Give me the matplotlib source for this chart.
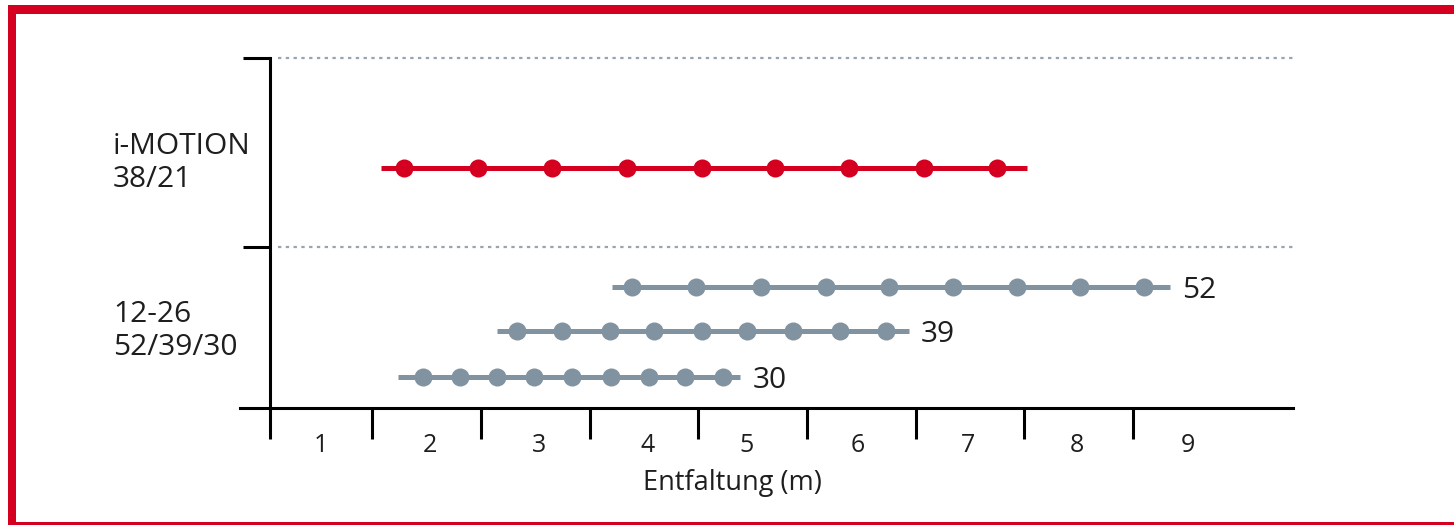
import matplotlib
matplotlib.use('Agg')
import matplotlib.pyplot as plt
from matplotlib.patches import Rectangle

plt.rcParams['font.family'] = ['Open Sans', 'DejaVu Sans']

# -----------------------------------------
# Daten
# X-Achse: Teilstriche und Beschriftungen (Entfaltung in m)
tick_pos = [0, 0.945, 1.956, 2.966, 3.967, 4.977, 5.987, 6.988, 8.0]
label_pos = [0.47, 1.48, 2.49, 3.50, 4.42, 5.45, 6.47, 7.48, 8.51]
tick_labels = ['1', '2', '3', '4', '5', '6', '7', '8', '9']

# Y-Achse: Gruppen-Trenner
group_ticks = [16.1, 35.0]
group_names = ['i-MOTION\n38/21', '12-26\n52/39/30']
group_y = [24.5, 7.7]

# Linien (Bereich der Entfaltung) und Rasterpunkte
line_names = ['', '52', '39', '30']
line_y = [24.0, 12.1, 7.7, 3.1]
line_start = [1.03, 3.17, 2.10, 1.19]
line_end = [7.02, 8.34, 5.92, 4.36]
dots_38_21 = [1.24, 1.93, 2.61, 3.31, 4.00, 4.68, 5.37, 6.06, 6.74]
dots_52 = [3.36, 3.95, 4.55, 5.15, 5.74, 6.33, 6.92, 7.51, 8.10]
dots_39 = [2.29, 2.71, 3.15, 3.56, 4.00, 4.42, 4.85, 5.28, 5.71]
dots_30 = [1.42, 1.76, 2.10, 2.45, 2.80, 3.16, 3.51, 3.85, 4.20]
line_dots = [dots_38_21, dots_52, dots_39, dots_30]

RED = '#d5001f'
GREY = '#8193a0'
line_colors = [RED, GREY, GREY, GREY]
TEXT = '#1e1e1e'

# -----------------------------------------
W, H = 1454, 525
fig = plt.figure(figsize=(W / 100, H / 100), dpi=100)
ax = fig.add_axes([240 / W, (H - 408) / H, (1293 - 240) / W, 350 / H])
ax.set_xlim(-0.278, 9.483)
ax.set_ylim(0, 35)

# gepunktete Hilfslinien
for gy in group_ticks:
    ax.plot([0.074, 9.483], [gy, gy], color='#98a4b0', linewidth=1.6,
            linestyle=(0, (1.5, 2.0)), clip_on=False, zorder=1)

# Linien mit Punkten
for name, y, x0, x1, dots, c in zip(line_names, line_y, line_start, line_end,
                                    line_dots, line_colors):
    ax.plot([x0, x1], [y, y], color=c, linewidth=3.6, solid_capstyle='butt', zorder=2)
    ax.plot(dots, [y] * len(dots), 'o', color=c, markersize=13,
            markeredgewidth=0, zorder=3)
    if name:
        ax.annotate(name, (x1, y), xytext=(9, 0), textcoords='offset points',
                    va='center_baseline', ha='left', fontsize=21.5, color=TEXT)

# Gruppen-Beschriftung links
for name, y in zip(group_names, group_y):
    ax.text(-1.455, y, name, ha='left', va='center', fontsize=21.5,
            color=TEXT, linespacing=1.15, clip_on=False)

# Achsen
for s in ['top', 'right']:
    ax.spines[s].set_visible(False)
ax.spines['left'].set_position(('data', 0))
ax.spines['left'].set_bounds(0, 35)
ax.spines['left'].set_linewidth(2.2)
ax.spines['bottom'].set_linewidth(2.2)
ax.spines['left'].set_color('black')
ax.spines['bottom'].set_color('black')

ax.set_yticks(group_ticks)
ax.set_yticklabels([])
ax.tick_params(axis='y', direction='out', length=19.5, width=2.2, color='black')

ax.set_xticks(tick_pos)
ax.set_xticklabels([])
ax.set_xticks(label_pos, minor=True)
ax.set_xticklabels(tick_labels, minor=True)
ax.tick_params(axis='x', which='major', direction='out', length=22, width=2.2,
               color='black')
ax.tick_params(axis='x', which='minor', length=0, pad=18, labelsize=18,
               labelcolor=TEXT)

ax.set_xlabel('Entfaltung (m)', fontsize=19.5, color=TEXT, va='center')
ax.xaxis.set_label_coords(0.468, -0.214)

# roter Rahmen
def px_rect(x0, y0, x1, y1):
    return Rectangle((x0 / W, 1 - y1 / H), (x1 - x0) / W, (y1 - y0) / H,
                     transform=fig.transFigure, facecolor=RED, edgecolor='none')

fig.add_artist(px_rect(8, 5, W, 14))
fig.add_artist(px_rect(8, 5, 16, H))
fig.add_artist(px_rect(8, 522, W, H))

fig.savefig('out.png', dpi=100)
plt.close(fig)
